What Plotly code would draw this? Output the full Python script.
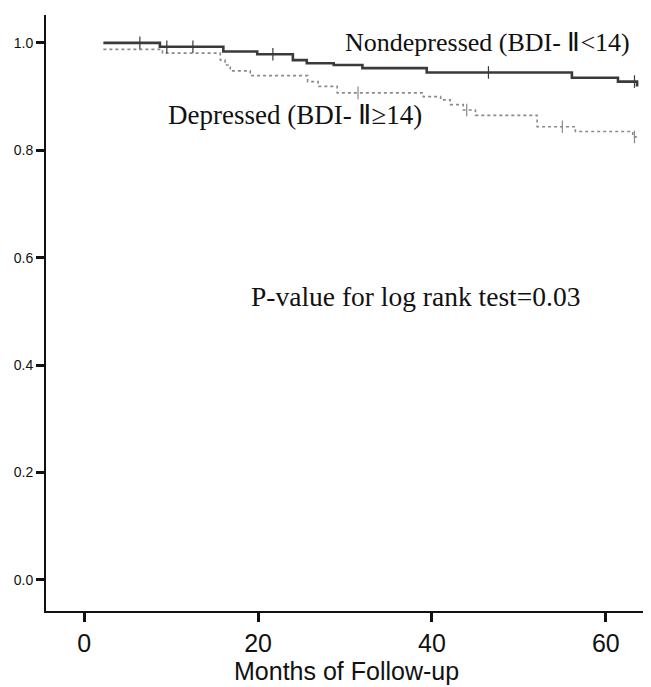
import numpy as np
import plotly.graph_objects as go

# Kaplan-Meier step data (months, survival)
nondep_months = [2.2, 8.7, 16.0, 19.9, 24.0, 25.6, 28.7, 32.0, 39.4, 56.1, 61.4, 63.6]
nondep_surv   = [1.000, 0.993, 0.984, 0.979, 0.968, 0.962, 0.959, 0.953, 0.945, 0.935, 0.928, 0.919]
nondep_censor = [6.4, 9.5, 12.5, 21.7, 46.5, 63.3]

dep_months = [2.2, 9.0, 15.65, 16.2, 16.8, 19.1, 25.7, 26.9, 29.1, 39.0, 41.0, 42.1, 43.6, 45.0, 52.1, 56.5, 63.1, 63.6]
dep_surv   = [0.988, 0.981, 0.968, 0.959, 0.948, 0.939, 0.928, 0.919, 0.907, 0.900, 0.894, 0.885, 0.875, 0.865, 0.844, 0.835, 0.825, 0.825]
dep_censor = [31.5, 44.0, 55.0, 63.3]

x_ticks = [0, 20, 40, 60]
y_ticks = [0.0, 0.2, 0.4, 0.6, 0.8, 1.0]
y_tick_labels = ["0.0", "0.2", "0.4", "0.6", "0.8", "1.0"]

label_nondep = "Nondepressed (BDI- Ⅱ<14)"
label_dep = "Depressed (BDI- Ⅱ≥14)"
label_p = "P-value for log rank test=0.03"
x_title = "Months of Follow-up"


def step_at(times, surv, t):
    idx = np.searchsorted(np.array(times), t, side="right") - 1
    idx = max(idx, 0)
    return surv[idx]


fig = go.Figure()

fig.add_trace(go.Scatter(
    x=dep_months, y=dep_surv, mode="lines", line_shape="hv",
    line=dict(color="#8a8a8a", width=1.6, dash="dot"), showlegend=False))
fig.add_trace(go.Scatter(
    x=nondep_months, y=nondep_surv, mode="lines", line_shape="hv",
    line=dict(color="#3a3a3a", width=2.6), showlegend=False))

fig.add_trace(go.Scatter(
    x=dep_censor, y=[step_at(dep_months, dep_surv, t) for t in dep_censor],
    mode="markers", marker=dict(symbol="line-ns", size=9,
                                line=dict(color="#8a8a8a", width=1.2)),
    showlegend=False))
fig.add_trace(go.Scatter(
    x=nondep_censor, y=[step_at(nondep_months, nondep_surv, t) for t in nondep_censor],
    mode="markers", marker=dict(symbol="line-ns", size=9,
                                line=dict(color="#3a3a3a", width=1.2)),
    showlegend=False))

serif = "Liberation Serif, Times New Roman, serif"
fig.add_annotation(x=46.4, y=1.0, text=label_nondep, showarrow=False,
                   font=dict(family=serif, size=26, color="#111"),
                   xanchor="center", yanchor="middle")
fig.add_annotation(x=24.3, y=0.866, text=label_dep, showarrow=False,
                   font=dict(family=serif, size=27, color="#111"),
                   xanchor="center", yanchor="middle")
fig.add_annotation(x=38.1, y=0.528, text=label_p, showarrow=False,
                   font=dict(family=serif, size=27.5, color="#111"),
                   xanchor="center", yanchor="middle")
fig.add_annotation(xref="paper", yref="paper", x=0.497, y=-0.101, text=x_title,
                   showarrow=False, font=dict(size=25, color="#111"),
                   xanchor="center", yanchor="middle")

# page body has an 8px margin, so the figure is made 8px smaller and shifted
fig.update_layout(
    width=643, height=679,
    margin=dict(l=38, r=0, t=7, b=76),
    plot_bgcolor="white", paper_bgcolor="white",
    font=dict(family="Liberation Sans, Arial, sans-serif", color="#111"),
    xaxis=dict(range=[-4.4, 65.2], tickvals=x_ticks, showgrid=False, zeroline=False,
               showline=True, linecolor="#111", linewidth=2, automargin=False,
               ticks="outside", ticklen=9, tickwidth=2.5, tickcolor="#111",
               tickfont=dict(size=25)),
    yaxis=dict(range=[-0.058, 1.052], tickvals=y_ticks, ticktext=y_tick_labels,
               showgrid=False, zeroline=False, automargin=False,
               showline=True, linecolor="#111", linewidth=2,
               ticks="outside", ticklen=8, tickwidth=2.5, tickcolor="#111",
               tickfont=dict(size=14)),
)

fig.write_html("out.html")
